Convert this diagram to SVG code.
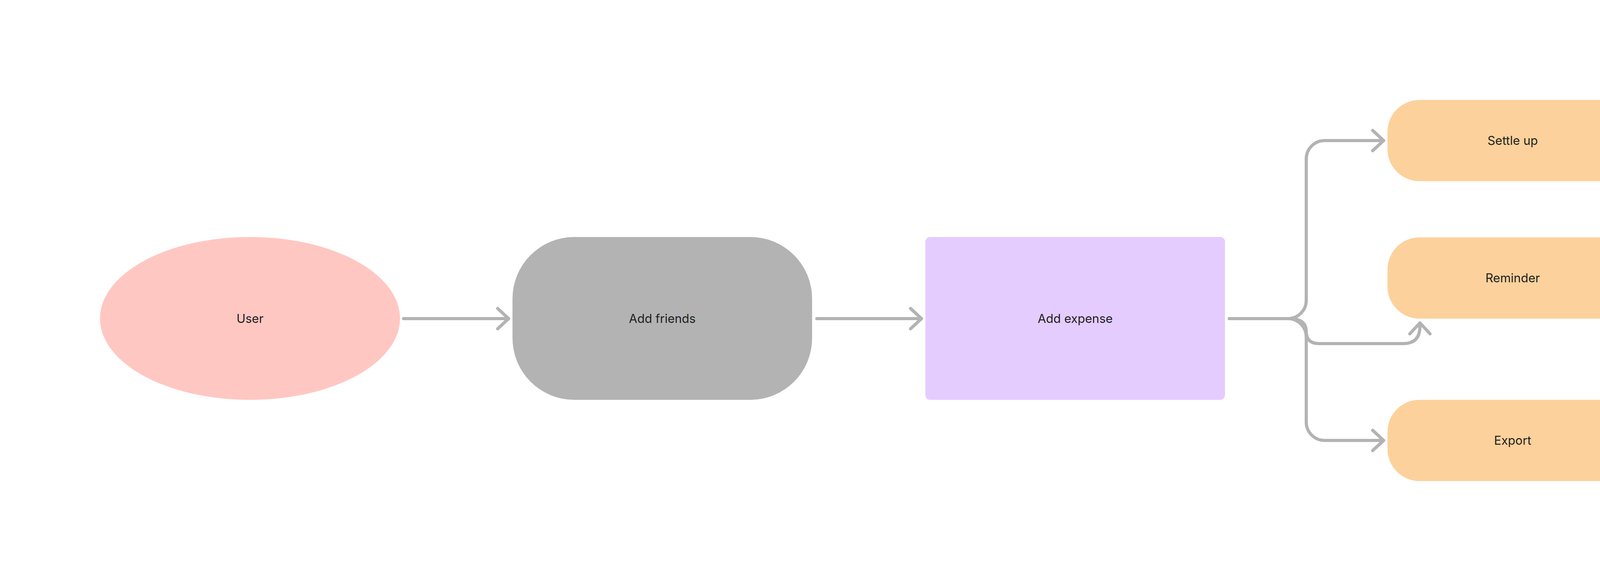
<svg xmlns="http://www.w3.org/2000/svg" width="4448" height="1488" viewBox="0 0 4448 1488">
<defs>
<style>
.lbl{font-family:Inter,"Liberation Sans",sans-serif;font-size:31px;fill:#1e1e1e;text-anchor:middle}
.con{fill:none;stroke:#b3b3b3;stroke-width:8;stroke-linecap:round;stroke-linejoin:round}
</style>
<marker id="arr" markerUnits="userSpaceOnUse" markerWidth="48" markerHeight="72" refX="36" refY="36" orient="auto" overflow="visible">
<path d="M8,10 L36,36 L8,62" fill="none" stroke="#b3b3b3" stroke-width="8" stroke-linecap="round" stroke-linejoin="round"/>
</marker>
</defs>
<rect width="4448" height="1488" fill="#ffffff"/>
<g id="connectors">
<path class="con" d="M1033,816 H1302" marker-end="url(#arr)"/>
<path class="con" d="M2091,816 H2359" marker-end="url(#arr)"/>
<path class="con" d="M3147,816 H3297 A47,47 0 0 0 3344,769 V407 A47,47 0 0 1 3391,360 H3542" marker-end="url(#arr)"/>
<path class="con" d="M3147,816 H3297 A47,47 0 0 1 3344,863 V1081 A47,47 0 0 0 3391,1128 H3542" marker-end="url(#arr)"/>
<path class="con" d="M3147,816 H3300 Q3344,816 3344,849 Q3344,880 3377,880 H3592 Q3635,880 3635,836 L3635,827" marker-end="url(#arr)"/>
</g>
<g id="node-user">
<ellipse cx="640" cy="815.5" rx="384" ry="208.5" fill="#ffc7c2"/>
<text class="lbl" x="640" y="827">User</text>
</g>
<g id="node-add-friends">
<rect x="1312" y="607" width="767" height="417" rx="158" ry="158" fill="#b3b3b3"/>
<text class="lbl" x="1695.5" y="827">Add friends</text>
</g>
<g id="node-add-expense">
<rect x="2369" y="607" width="767" height="417" rx="12" ry="12" fill="#e4ccff"/>
<text class="lbl" x="2752.5" y="827">Add expense</text>
</g>
<g id="node-settle-up">
<rect x="3552" y="256" width="641" height="208" rx="82" ry="82" fill="#fcd19c"/>
<text class="lbl" x="3872.5" y="371">Settle up</text>
</g>
<g id="node-reminder">
<rect x="3552" y="608" width="641" height="208" rx="82" ry="82" fill="#fcd19c"/>
<text class="lbl" x="3872.5" y="723">Reminder</text>
</g>
<g id="node-export">
<rect x="3552" y="1024" width="641" height="208" rx="82" ry="82" fill="#fcd19c"/>
<text class="lbl" x="3872.5" y="1139">Export</text>
</g>
</svg>
